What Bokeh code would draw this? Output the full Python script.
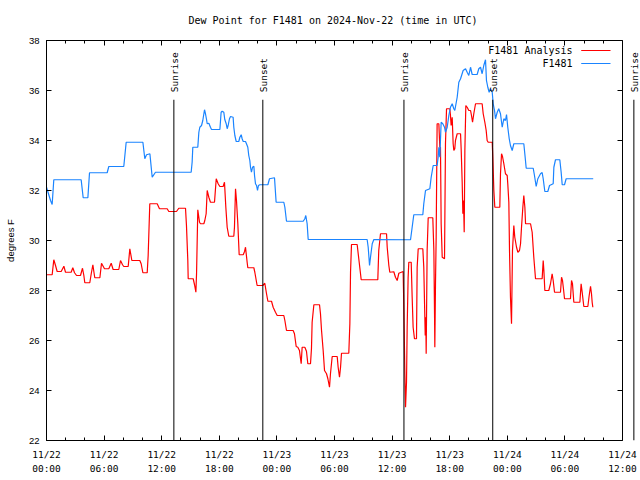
import numpy as np
import pandas as pd
from bokeh.plotting import figure
from bokeh.models import (ColumnDataSource, FixedTicker, DatetimeTickFormatter,
                          DatetimeAxis, LinearAxis, LabelSet, Arrow, Label, Range1d,
                          CustomLabelingPolicy)
from bokeh.core.properties import value
from bokeh.embed import file_html
from bokeh.resources import INLINE

# ---------------- data (hours since 2024-11-22 00:00 UTC, degrees F) ----------------
start_time = "2024-11-22 00:00"
axis_end_hours = 60          # the boxed chart spans 0..60 h
view_end_hours = 61.875      # a little room past the box for a marker beyond it

analysis_pts = [
    (0.00, 28.63), (0.59, 28.63), (0.76, 29.23), (0.94, 29.00), (1.11, 28.76), (1.53, 28.76),
    (1.81, 28.97), (1.98, 28.73), (2.57, 28.73), (2.74, 28.91), (2.92, 28.71), (3.13, 28.60),
    (3.54, 28.60), (3.75, 28.89), (3.89, 28.60), (3.99, 28.31), (4.51, 28.31), (4.66, 28.67),
    (4.83, 29.03), (4.93, 28.76), (5.03, 28.51), (5.56, 28.51), (5.73, 29.09), (5.90, 28.97),
    (6.04, 28.87), (6.49, 28.87), (6.74, 29.09), (6.94, 28.84), (7.53, 28.84), (7.71, 29.20),
    (7.92, 29.03), (8.05, 28.96), (8.51, 28.96), (8.68, 29.67), (8.89, 29.20), (9.72, 29.20),
    (9.86, 29.07), (10.04, 28.71), (10.49, 28.71), (10.59, 29.40), (10.76, 31.47), (11.53, 31.47),
    (11.77, 31.27), (12.57, 31.27), (12.74, 31.16), (13.54, 31.16), (13.78, 31.29), (14.48, 31.29),
    (14.58, 30.60), (14.72, 29.20), (14.76, 28.47), (15.28, 28.47), (15.42, 28.23), (15.56, 27.93),
    (15.63, 28.67), (15.76, 31.23), (15.94, 30.73), (16.04, 30.67), (16.39, 30.67), (16.49, 30.80),
    (16.63, 31.07), (16.74, 32.00), (16.91, 31.73), (17.08, 31.53), (17.50, 31.53), (17.68, 32.47),
    (17.88, 32.27), (18.06, 32.16), (18.40, 32.16), (18.54, 32.33), (18.68, 31.33), (18.82, 30.53),
    (18.99, 30.17), (19.51, 30.17), (19.58, 30.53), (19.69, 32.07), (19.79, 31.60), (19.93, 30.67),
    (20.07, 29.43), (20.49, 29.43), (20.63, 29.56), (20.73, 29.73), (20.90, 29.13), (20.97, 28.91),
    (21.60, 28.91), (21.70, 28.73), (21.94, 28.20), (22.53, 28.20), (22.74, 28.29), (22.92, 27.87),
    (23.06, 27.57), (23.44, 27.57), (23.61, 27.33), (23.85, 27.13), (24.03, 27.00), (24.72, 27.00),
    (24.83, 26.80), (25.00, 26.40), (25.69, 26.40), (25.83, 26.27), (26.01, 25.76), (26.18, 25.73),
    (26.35, 25.60), (26.53, 25.07), (26.63, 25.73), (26.91, 25.73), (27.08, 25.57), (27.22, 25.07),
    (27.50, 25.07), (27.60, 25.67), (27.67, 26.73), (27.85, 27.43), (28.44, 27.43), (28.54, 27.07),
    (28.65, 26.40), (28.82, 25.60), (28.96, 24.80), (29.17, 24.67), (29.31, 24.47), (29.48, 24.13),
    (29.58, 24.67), (29.76, 25.36), (30.28, 25.36), (30.38, 24.93), (30.52, 24.53), (30.63, 24.93),
    (30.73, 25.49), (31.49, 25.49), (31.60, 26.67), (31.67, 28.73), (31.77, 29.84), (32.36, 29.84),
    (32.53, 29.27), (32.71, 28.67), (32.78, 28.43), (34.51, 28.43), (34.61, 29.60), (34.79, 30.27),
    (35.42, 30.27), (35.49, 29.73), (35.66, 29.00), (35.76, 28.73), (36.18, 28.75), (36.35, 28.53),
    (36.53, 28.40), (36.70, 28.69), (37.15, 28.76), (37.22, 27.40), (37.33, 24.67), (37.40, 23.33),
    (37.50, 24.33), (37.57, 26.53), (37.67, 28.53), (37.74, 29.13), (37.99, 29.13), (38.09, 27.73),
    (38.19, 26.53), (38.33, 26.07), (38.54, 26.07), (38.61, 28.93), (38.72, 29.67), (39.20, 29.67),
    (39.30, 28.93), (39.38, 27.47), (39.45, 26.20), (39.51, 26.93), (39.55, 25.47), (39.65, 29.60),
    (39.76, 30.91), (40.24, 30.91), (40.35, 29.60), (40.42, 27.07), (40.45, 25.73), (40.52, 28.27),
    (40.59, 30.13), (40.69, 34.67), (40.87, 34.67), (40.97, 33.73), (41.04, 33.73), (41.11, 30.67),
    (41.22, 29.33), (41.46, 29.27), (41.56, 33.87), (41.67, 35.27), (42.01, 35.27), (42.08, 35.00),
    (42.15, 34.60), (42.26, 34.93), (42.36, 33.87), (42.43, 33.60), (42.53, 33.67), (42.60, 34.00),
    (42.78, 34.27), (43.13, 34.27), (43.20, 33.60), (43.30, 32.33), (43.37, 31.07), (43.44, 31.60),
    (43.51, 30.33), (43.58, 33.60), (43.68, 35.40), (43.82, 35.33), (43.99, 35.20), (44.17, 35.20),
    (44.27, 35.00), (44.38, 34.73), (44.51, 35.07), (44.69, 35.47), (45.38, 35.47), (45.49, 35.07),
    (45.66, 34.73), (45.80, 34.40), (45.90, 34.00), (46.01, 33.93), (46.43, 33.93), (46.49, 33.33),
    (46.60, 32.00), (46.70, 31.33), (47.22, 31.33), (47.29, 32.67), (47.40, 33.47), (47.50, 33.36),
    (47.64, 33.07), (47.81, 32.67), (47.99, 32.60), (48.05, 32.27), (48.16, 31.53), (48.23, 29.60),
    (48.33, 27.73), (48.44, 26.67), (48.54, 29.60), (48.68, 30.60), (48.78, 30.13), (48.96, 29.73),
    (49.10, 29.53), (49.27, 29.60), (49.38, 29.87), (49.48, 30.53), (49.62, 31.33), (49.72, 31.80),
    (49.83, 31.33), (49.90, 30.67), (50.42, 30.67), (50.59, 30.33), (50.76, 29.33), (50.94, 28.47),
    (51.63, 28.47), (51.74, 29.20), (51.81, 28.80), (51.91, 28.00), (52.32, 28.00), (52.50, 28.27),
    (52.67, 28.67), (52.78, 28.40), (52.92, 27.93), (53.54, 27.93), (53.65, 28.53), (53.75, 28.40),
    (53.85, 28.07), (53.96, 27.67), (54.58, 27.67), (54.69, 28.40), (54.79, 28.27), (54.93, 27.53),
    (55.56, 27.53), (55.69, 28.27), (55.80, 27.93), (55.97, 27.36), (56.39, 27.36), (56.53, 27.80),
    (56.67, 28.17), (56.77, 27.87), (56.84, 27.53), (56.91, 27.33),
]

station_pts = [
    (0.00, 32.13), (0.42, 31.60), (0.59, 31.44), (0.76, 32.43), (3.61, 32.43), (3.82, 31.71),
    (4.31, 31.71), (4.48, 32.71), (6.32, 32.71), (6.49, 32.96), (8.05, 32.96), (8.30, 33.93),
    (10.04, 33.93), (10.24, 33.27), (10.42, 33.43), (10.77, 33.47), (11.01, 32.53), (11.35, 32.73),
    (15.07, 32.73), (15.17, 33.13), (15.24, 33.73), (15.76, 33.73), (15.87, 34.33), (15.97, 34.53),
    (16.15, 34.60), (16.28, 34.80), (16.46, 35.23), (16.56, 35.07), (16.67, 34.84), (16.74, 34.67),
    (16.91, 34.69), (17.08, 34.53), (17.19, 34.44), (18.06, 34.44), (18.19, 35.13), (18.30, 35.17),
    (18.47, 35.13), (18.57, 34.84), (18.72, 34.67), (18.82, 34.47), (18.92, 34.60), (19.06, 34.87),
    (19.17, 34.96), (19.44, 34.93), (19.51, 34.53), (19.62, 34.20), (19.76, 33.96), (20.03, 33.96),
    (20.14, 34.13), (20.28, 34.23), (20.38, 34.07), (20.49, 33.96), (20.73, 33.96), (20.83, 33.87),
    (20.97, 33.73), (21.07, 33.40), (21.18, 33.20), (21.25, 32.93), (21.35, 32.73), (21.46, 32.93),
    (21.60, 32.97), (21.67, 32.60), (21.77, 32.27), (21.88, 32.20), (21.98, 32.00), (22.08, 32.20),
    (22.22, 32.23), (23.06, 32.23), (23.23, 32.47), (23.75, 32.51), (23.92, 31.53), (24.72, 31.53),
    (24.83, 31.33), (25.00, 30.77), (26.74, 30.77), (26.91, 30.87), (27.01, 31.00), (27.15, 30.67),
    (27.26, 30.04), (33.40, 30.04), (33.51, 29.73), (33.65, 29.00), (33.75, 29.33), (33.93, 29.87),
    (34.10, 30.04), (37.92, 30.03), (38.09, 30.53), (38.26, 31.03), (39.20, 31.03), (39.30, 31.47),
    (39.48, 32.00), (39.93, 32.07), (40.07, 32.53), (40.28, 33.00), (40.69, 33.00), (40.80, 33.33),
    (40.87, 33.73), (40.97, 33.33), (41.11, 34.73), (41.28, 34.67), (41.46, 34.53), (41.56, 34.33),
    (41.74, 34.53), (41.91, 35.00), (42.08, 35.33), (42.26, 35.47), (42.43, 35.27), (42.53, 35.20),
    (42.78, 35.73), (42.95, 36.33), (43.13, 36.47), (43.40, 36.80), (43.65, 36.87), (43.82, 36.73),
    (43.99, 36.60), (44.17, 36.93), (44.34, 36.64), (44.86, 36.64), (45.03, 36.87), (45.21, 36.93),
    (45.38, 36.67), (45.55, 37.00), (45.73, 37.23), (45.83, 36.40), (45.97, 36.13), (46.11, 35.93),
    (46.25, 36.07), (46.43, 35.93), (46.53, 35.47), (46.67, 35.20), (46.77, 34.87), (46.95, 35.13),
    (47.11, 35.27), (47.29, 35.07), (47.47, 34.53), (47.64, 34.87), (47.81, 34.80), (47.92, 35.04),
    (48.05, 34.53), (48.20, 34.07), (48.33, 33.80), (48.51, 33.60), (48.68, 33.87), (49.72, 33.87),
    (49.86, 33.33), (49.97, 32.89), (50.70, 32.89), (50.83, 32.60), (51.01, 32.16), (51.18, 32.47),
    (51.46, 32.67), (51.63, 32.72), (51.74, 32.47), (51.91, 31.96), (52.22, 31.96), (52.40, 32.20),
    (52.78, 32.27), (52.85, 32.93), (53.02, 33.23), (53.47, 33.23), (53.61, 32.73), (53.72, 32.23),
    (53.96, 32.23), (54.13, 32.47), (56.95, 32.47),
]

sun_times = ["2024-11-22 13:16", "2024-11-22 22:32", "2024-11-23 13:14",
             "2024-11-23 22:29", "2024-11-24 13:11"]
sun_labels = ["Sunrise", "Sunset", "Sunrise", "Sunset", "Sunrise"]

series_names = ["F1481 Analysis", "F1481"]
series_colors = ["#ff0000", "#1a84ff"]

x_major_hours = list(range(0, 61, 6))
x_minor_hours = list(range(0, 61, 2))
y_ticks = list(range(22, 39, 2))
y_min, y_max = 22, 38

# ---------------- helpers ----------------
T0 = pd.Timestamp(start_time)


def to_time(hours):
    return T0 + pd.to_timedelta(np.asarray(hours, dtype=float), unit="h")


def to_ms(hours):
    return to_time(hours).asi8 / 1e6


def time_str_ms(strings):
    return pd.to_datetime(strings).asi8 / 1e6


ah, av = zip(*analysis_pts)
sh, sv = zip(*station_pts)
src_analysis = ColumnDataSource(dict(t=to_time(ah), v=list(av)))
src_station = ColumnDataSource(dict(t=to_time(sh), v=list(sv)))

MONO = "DejaVu Sans Mono"
SANS = "Liberation Sans"

x0_ms, x_box_end_ms, x_view_end_ms = to_ms([0, axis_end_hours, view_end_hours])

p = figure(frame_width=594, frame_height=400,
           x_axis_type="datetime",
           x_range=Range1d(x0_ms, x_view_end_ms),
           y_range=Range1d(y_min, y_max),
           output_backend="svg", toolbar_location=None,
           min_border_left=46, min_border_right=0,
           min_border_top=40, min_border_bottom=40)

p.grid.visible = False
p.outline_line_color = None
p.background_fill_color = "white"
p.border_fill_color = "white"

# title (centred over the 0..60 h box)
p.title.text = "Dew Point for F1481 on 2024-Nov-22 (time in UTC)"
p.title.align = "left"
p.title.offset = 142
p.title.vertical_align = "top"
p.title.text_font = MONO
p.title.text_font_size = "10px"
p.title.text_font_style = "normal"
p.title.text_color = "black"
p.title.standoff = 25

# labels of the mirror axes are suppressed (ticks only)
hide_all = CustomLabelingPolicy(code="""
try {
  for (const i of Array.from(indices.ones())) indices.unset(i);
} catch (e) {
  for (let i = 0; i < indices.size; i++) { try { indices.unset(i) } catch (e2) {} }
}
return indices;
""")

# x axis (bottom)
fmt = "%m/%d\n%H:%M"
xticker = FixedTicker(ticks=list(to_ms(x_major_hours)), minor_ticks=list(to_ms(x_minor_hours)))
xfmt = DatetimeTickFormatter(microseconds=fmt, milliseconds=fmt, seconds=fmt, minsec=fmt,
                             minutes=fmt, hourmin=fmt, hours=fmt, days=fmt, months=fmt, years=fmt)
xa = p.xaxis[0]
xa.ticker = xticker
xa.formatter = xfmt
xa.bounds = (x0_ms, x_box_end_ms)
xa.major_label_text_font = MONO
xa.major_label_text_font_size = "9.5px"
xa.major_label_text_color = "black"
xa.major_label_text_line_height = 1.3
xa.major_label_standoff = 8
xa.major_tick_in = 5
xa.major_tick_out = 0
xa.minor_tick_in = 3
xa.minor_tick_out = 0
xa.axis_line_color = "black"

# top border with mirrored ticks
top = DatetimeAxis(ticker=xticker, formatter=xfmt, bounds=(x0_ms, x_box_end_ms),
                   major_label_text_font_size="0px", major_label_policy=hide_all,
                   major_label_standoff=0, major_tick_in=5, major_tick_out=0,
                   minor_tick_in=3, minor_tick_out=0, axis_line_color="black")
p.add_layout(top, "above")

# y axis (left)
yticker = FixedTicker(ticks=y_ticks)
ya = p.yaxis[0]
ya.ticker = yticker
ya.major_label_text_font = SANS
ya.major_label_text_font_size = "9.5px"
ya.major_label_text_color = "black"
ya.major_label_standoff = 7
ya.major_tick_in = 5
ya.major_tick_out = 0
ya.minor_tick_line_color = None
ya.axis_line_color = "black"
ya.axis_label = "degrees F"
ya.axis_label_text_font = SANS
ya.axis_label_text_font_size = "9.5px"
ya.axis_label_text_font_style = "normal"
ya.axis_label_text_color = "black"
ya.axis_label_standoff = 10

# right border at the end of the time box, with mirrored ticks
right = LinearAxis(ticker=yticker, fixed_location=x_box_end_ms,
                   major_label_text_font_size="0px", major_label_standoff=0,
                   major_label_policy=hide_all,
                   major_tick_in=5, major_tick_out=0, minor_tick_line_color=None,
                   axis_line_color="black")
p.add_layout(right, "right")

# data lines
p.line("t", "v", source=src_analysis, line_color=series_colors[0], line_width=1.2)
p.line("t", "v", source=src_station, line_color=series_colors[1], line_width=1.2)

# sunrise / sunset markers
sun_ms = time_str_ms(sun_times)
n_sun = len(sun_ms)
line_top = 35.63
label_start = 35.93
sun_src = ColumnDataSource(dict(x=list(sun_ms), y0=[y_min] * n_sun,
                                y1=[line_top] * n_sun, ly=[label_start] * n_sun,
                                text=sun_labels))
p.add_layout(Arrow(end=None, start=None, x_start="x", y_start="y0", x_end="x", y_end="y1",
                   source=sun_src, line_color="black", line_width=1))
p.add_layout(LabelSet(x="x", y="ly", text="text", source=sun_src, angle=np.pi / 2,
                      x_offset=0.5,
                      text_align="left", text_baseline="middle",
                      text_font=value(MONO), text_font_size="9.5px", text_color="black"))

# legend (gnuplot style: text right-aligned, sample line to the right)
leg_text_x = to_ms([54.8])[0]
leg_l0 = to_ms([55.70])[0]
leg_l1 = to_ms([58.75])[0]
leg_ys = [37.60, 37.08]
for name, col, ly in zip(series_names, series_colors, leg_ys):
    p.add_layout(Label(x=leg_text_x, y=ly, text=name, text_align="right", text_baseline="middle",
                       text_font=MONO, text_font_size="10px", text_color="black"))
    p.add_layout(Arrow(end=None, start=None, x_start=leg_l0, y_start=ly, x_end=leg_l1, y_end=ly,
                       line_color=col, line_width=1.2))

open("out.html", "w").write(file_html(p, INLINE))
